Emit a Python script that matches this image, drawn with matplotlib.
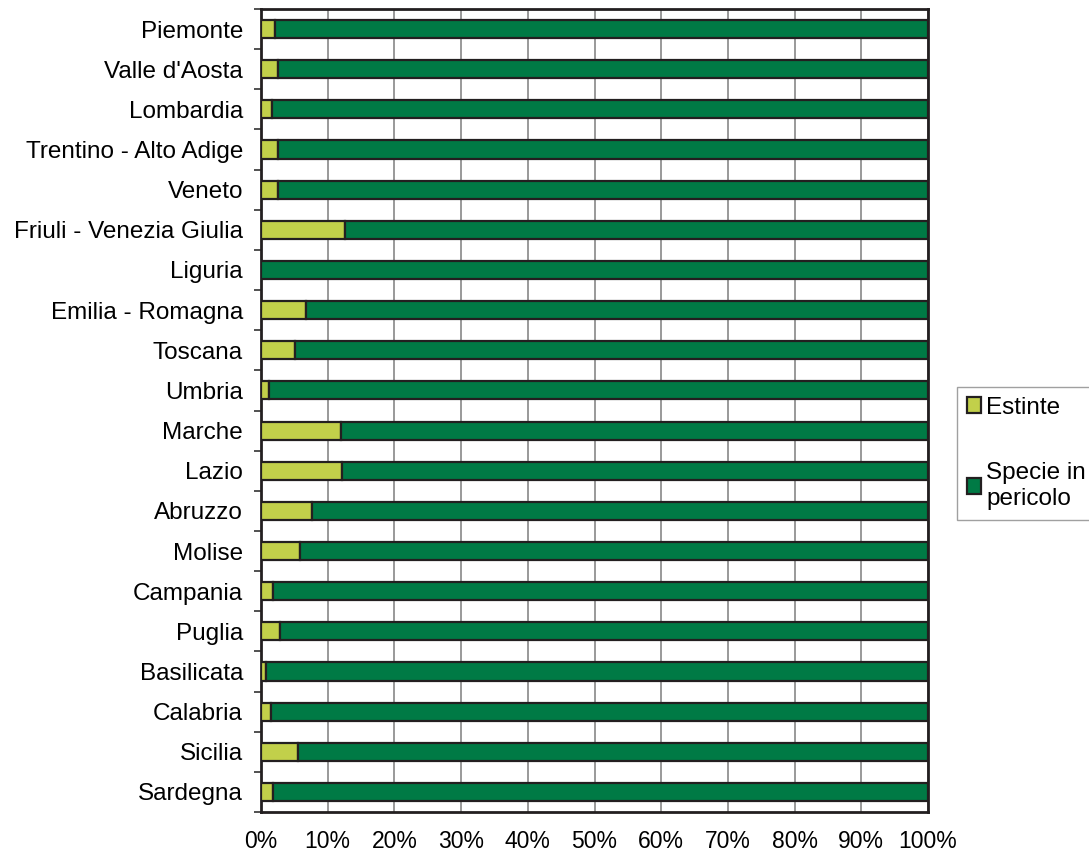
import matplotlib.pyplot as plt
from matplotlib.ticker import FixedLocator, FuncFormatter

plt.rcParams['font.family'] = ['Liberation Sans', 'DejaVu Sans']

# data set (percent of species, per region)
regions = ['Piemonte', "Valle d'Aosta", 'Lombardia', 'Trentino - Alto Adige', 'Veneto',
           'Friuli - Venezia Giulia', 'Liguria', 'Emilia - Romagna', 'Toscana', 'Umbria',
           'Marche', 'Lazio', 'Abruzzo', 'Molise', 'Campania', 'Puglia', 'Basilicata',
           'Calabria', 'Sicilia', 'Sardegna']
estinte = [2.1, 2.5, 1.6, 2.5, 2.6, 12.6, 0.0, 6.8, 5.1, 1.2,
           12.0, 12.2, 7.7, 5.8, 1.8, 2.9, 0.7, 1.5, 5.6, 1.8]
pericolo = [100 - v for v in estinte]
x_ticks = [0, 10, 20, 30, 40, 50, 60, 70, 80, 90, 100]

fig = plt.figure(figsize=(10.89, 8.52), dpi=100)
ax = fig.add_axes([261 / 1089, 1 - 812 / 852, (928 - 261) / 1089, (812 - 9) / 852])

ypos = list(range(len(regions)))
edge = '#231f20'
h1 = ax.barh(ypos, estinte, height=0.45, color='#c2d04a', edgecolor=edge, linewidth=1.6,
             label='Estinte', zorder=3)
h2 = ax.barh(ypos, pericolo, left=estinte, height=0.45, color='#007a45', edgecolor=edge,
             linewidth=1.6, label='Specie in\npericolo', zorder=3)

ax.set_xlim(0, 100)
ax.set_ylim(len(regions) - 0.5, -0.5)
ax.set_yticks(ypos)
ax.set_yticklabels(regions, fontsize=17.5)
ax.yaxis.set_minor_locator(FixedLocator([i + 0.5 for i in range(-1, len(regions))]))
ax.tick_params(axis='y', which='major', length=0, pad=13)
ax.tick_params(axis='y', which='minor', length=5, width=1.2, color='#333333')

ax.set_xticks(x_ticks)
ax.xaxis.set_major_formatter(FuncFormatter(lambda v, p: f'{int(v)}%'))
ax.tick_params(axis='x', length=0, pad=13, labelsize=16.5)
ax.grid(axis='x', color='#888888', linewidth=1.2, zorder=0)

for s in ax.spines.values():
    s.set_linewidth(2)
    s.set_color(edge)

leg = fig.legend(handles=[h1, h2], loc='upper left', bbox_to_anchor=(957 / 1089, 1 - 387 / 852),
                 fontsize=17.5, frameon=True, fancybox=False, handlelength=0.6,
                 handleheight=0.6, handletextpad=0.2, labelspacing=1.8, borderpad=0.4,
                 borderaxespad=0)
leg.get_frame().set_edgecolor('#888888')
leg.get_frame().set_linewidth(1)

plt.savefig('out.png', dpi=100)
